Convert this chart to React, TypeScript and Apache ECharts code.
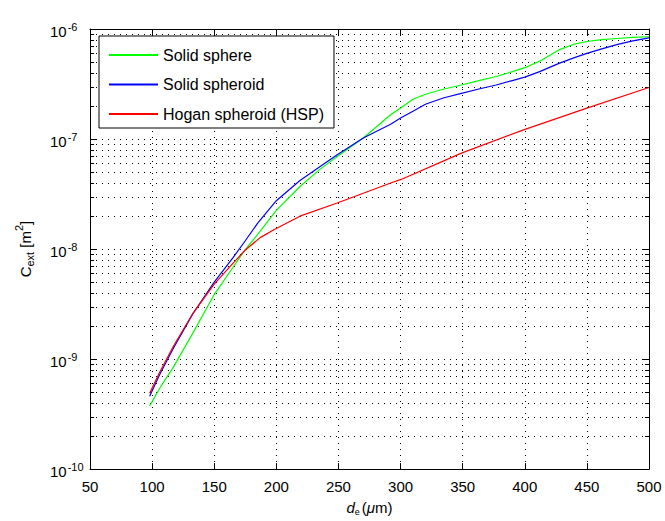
import React, { useEffect, useRef } from "react";
import * as echarts from "echarts";

// Equivalent diameter d_e (µm)
const diameters = [98, 106, 117, 133, 150, 165, 175, 185, 200, 219, 235, 249, 270, 292, 300, 310, 320, 335, 349, 363, 377, 390, 400, 412, 428, 440, 450, 462, 474, 487, 500];
// Solid sphere C_ext (m^2)
const sphere = [3.75e-10, 5.4e-10, 8.4e-10, 1.74e-9, 3.86e-9, 6.8e-9, 9.9e-9, 1.36e-8, 2.25e-8, 3.7e-8, 5.3e-8, 6.95e-8, 1.02e-7, 1.66e-7, 1.91e-7, 2.3e-7, 2.55e-7, 2.85e-7, 3.1e-7, 3.4e-7, 3.7e-7, 4.1e-7, 4.45e-7, 5.1e-7, 6.5e-7, 7.3e-7, 7.7e-7, 8.0e-7, 8.2e-7, 8.4e-7, 8.5e-7];
// Solid spheroid C_ext (m^2)
const spheroid = [4.6e-10, 7.2e-10, 1.25e-9, 2.6e-9, 5.0e-9, 8.3e-9, 1.19e-8, 1.72e-8, 2.75e-8, 4.2e-8, 5.6e-8, 7.2e-8, 1.02e-7, 1.36e-7, 1.55e-7, 1.79e-7, 2.07e-7, 2.37e-7, 2.6e-7, 2.85e-7, 3.1e-7, 3.4e-7, 3.65e-7, 4.1e-7, 4.9e-7, 5.5e-7, 6.0e-7, 6.6e-7, 7.2e-7, 7.8e-7, 8.3e-7];
// Hogan spheroid (HSP)
const hoganD = [98, 106, 117, 133, 150, 163, 175, 187, 198, 219, 249, 292, 300, 349, 399, 450, 500];
const hogan = [4.9e-10, 7.55e-10, 1.3e-9, 2.62e-9, 4.8e-9, 7.0e-9, 9.8e-9, 1.27e-8, 1.5e-8, 1.99e-8, 2.62e-8, 3.98e-8, 4.27e-8, 7.45e-8, 1.21e-7, 1.91e-7, 2.94e-7];

const seriesNames = ["Solid sphere", "Solid spheroid", "Hogan spheroid (HSP)"];
const seriesColors = ["#00ff00", "#0000ff", "#ff0000"];
const decades = [1e-10, 1e-9, 1e-8, 1e-7];
const minorMultipliers = [2, 3, 4, 5, 6, 7, 8, 9];

export default function App() {
  const ref = useRef<HTMLDivElement>(null);
  useEffect(() => {
    const chart = echarts.init(ref.current!, null, { renderer: "svg" });
    const font = "'Liberation Sans', Arial, Helvetica, sans-serif";
    const minorData: number[][] = [];
    decades.forEach((d) => minorMultipliers.forEach((m) => minorData.push([50, m * d])));

    const pair = (xs: number[], ys: number[]) => xs.map((x, i) => [x, ys[i]]);
    const dotted = { color: "#000", width: 1, type: [1, 5] as any };

    const lineSeries = (i: number, data: number[][]) => ({
      name: seriesNames[i],
      type: "line",
      data,
      symbol: "none",
      z: 3,
      lineStyle: { color: seriesColors[i], width: 1.2 },
      itemStyle: { color: seriesColors[i], opacity: 0 },
    });

    const option: any = {
      animation: false,
      backgroundColor: "#fff",
      grid: { left: 90, right: 16, top: 29, bottom: 51 },
      legend: {
        data: seriesNames,
        orient: "vertical",
        left: 99,
        top: 36,
        padding: [11, 10, 6, 9],
        itemWidth: 49,
        itemHeight: 14,
        itemGap: 13.5,
        borderColor: "#000",
        borderWidth: 1,
        backgroundColor: "#fff",
        itemStyle: { opacity: 0 },
        textStyle: { fontFamily: font, fontSize: 16, color: "#000" },
      },
      xAxis: [
        {
          type: "value",
          min: 50,
          max: 500,
          interval: 50,
          position: "bottom",
          axisLine: { lineStyle: { color: "#000", width: 1 } },
          axisTick: { inside: true, length: 6, lineStyle: { color: "#000" } },
          axisLabel: { color: "#000", fontFamily: font, fontSize: 15, margin: 10 },
          splitLine: { show: true, lineStyle: dotted },
          name: "{i|d}{s|e}{n|(}{i|\u03bc}{n|m)}",
          nameLocation: "middle",
          nameGap: 30,
          nameTextStyle: {
            rich: {
              i: { fontFamily: font, fontStyle: "italic", fontSize: 15, color: "#000", lineHeight: 16 },
              n: { fontFamily: font, fontSize: 15, color: "#000", lineHeight: 16 },
              s: { fontFamily: font, fontSize: 9, color: "#000", lineHeight: 10, padding: [8, 2, 0, 0] },
            },
          },
        },
        {
          type: "value",
          min: 50,
          max: 500,
          interval: 50,
          position: "top",
          axisLine: { lineStyle: { color: "#000", width: 1 } },
          axisTick: { inside: true, length: 6, lineStyle: { color: "#000" } },
          axisLabel: { show: false },
          splitLine: { show: false },
        },
      ],
      yAxis: [
        {
          type: "log",
          logBase: 10,
          min: 1e-10,
          max: 1e-6,
          splitNumber: 4,
          position: "left",
          axisLine: { show: true, lineStyle: { color: "#000", width: 1 } },
          axisTick: { show: true, inside: true, length: 6, lineStyle: { color: "#000" } },
          splitLine: { show: true, lineStyle: dotted },
          axisLabel: {
            align: "left",
            margin: 40,
            formatter: (v: number) => `{b|10}{e|${Math.round(Math.log10(v))}}`,
            rich: {
              b: { fontFamily: font, fontSize: 15, color: "#000", lineHeight: 16, padding: [4, 0, 0, 0] },
              e: { fontFamily: font, fontSize: 11, color: "#000", lineHeight: 12, padding: [0, 0, 24, 1], verticalAlign: "top" },
            },
          },
          name: "{n|C}{s|ext}{n| [m}{p|2}{n|]}",
          nameLocation: "middle",
          nameRotate: 90,
          nameGap: 57,
          nameTextStyle: {
            rich: {
              n: { fontFamily: font, fontSize: 15, color: "#000", lineHeight: 16 },
              s: { fontFamily: font, fontSize: 11, color: "#000", lineHeight: 12, padding: [10, 0, 0, 0] },
              p: { fontFamily: font, fontSize: 11, color: "#000", lineHeight: 12, padding: [0, 0, 12, 0] },
            },
          },
        },
        {
          type: "log",
          logBase: 10,
          min: 1e-10,
          max: 1e-6,
          splitNumber: 4,
          position: "right",
          axisLine: { show: true, lineStyle: { color: "#000", width: 1 } },
          axisTick: { show: true, inside: true, length: 6, lineStyle: { color: "#000" } },
          axisLabel: { show: false },
          splitLine: { show: false },
        },
      ],
      series: [
        {
          type: "custom",
          silent: true,
          z: 1,
          xAxisIndex: 0,
          yAxisIndex: 0,
          data: minorData,
          encode: { x: 0, y: 1 },
          renderItem: (params: any, api: any) => {
            const v = api.value(1);
            const p0 = api.coord([50, v]);
            const p1 = api.coord([500, v]);
            const y = Math.round(p0[1]) + 0.5;
            return {
              type: "group",
              children: [
                { type: "line", shape: { x1: p0[0], y1: y, x2: p1[0], y2: y }, style: { stroke: "#000", lineWidth: 1, lineDash: [1, 5] } },
                { type: "line", shape: { x1: p0[0], y1: y, x2: p0[0] + 4, y2: y }, style: { stroke: "#000", lineWidth: 1 } },
                { type: "line", shape: { x1: p1[0] - 4, y1: y, x2: p1[0], y2: y }, style: { stroke: "#000", lineWidth: 1 } },
              ],
            };
          },
        },
        lineSeries(0, pair(diameters, sphere)),
        lineSeries(1, pair(diameters, spheroid)),
        lineSeries(2, pair(hoganD, hogan)),
      ],
    };
    chart.setOption(option);
    return () => chart.dispose();
  }, []);
  return (
    <div
      ref={ref}
      style={{ position: "fixed", left: 0, top: 0, width: 665, height: 521, background: "#fff" }}
    />
  );
}
